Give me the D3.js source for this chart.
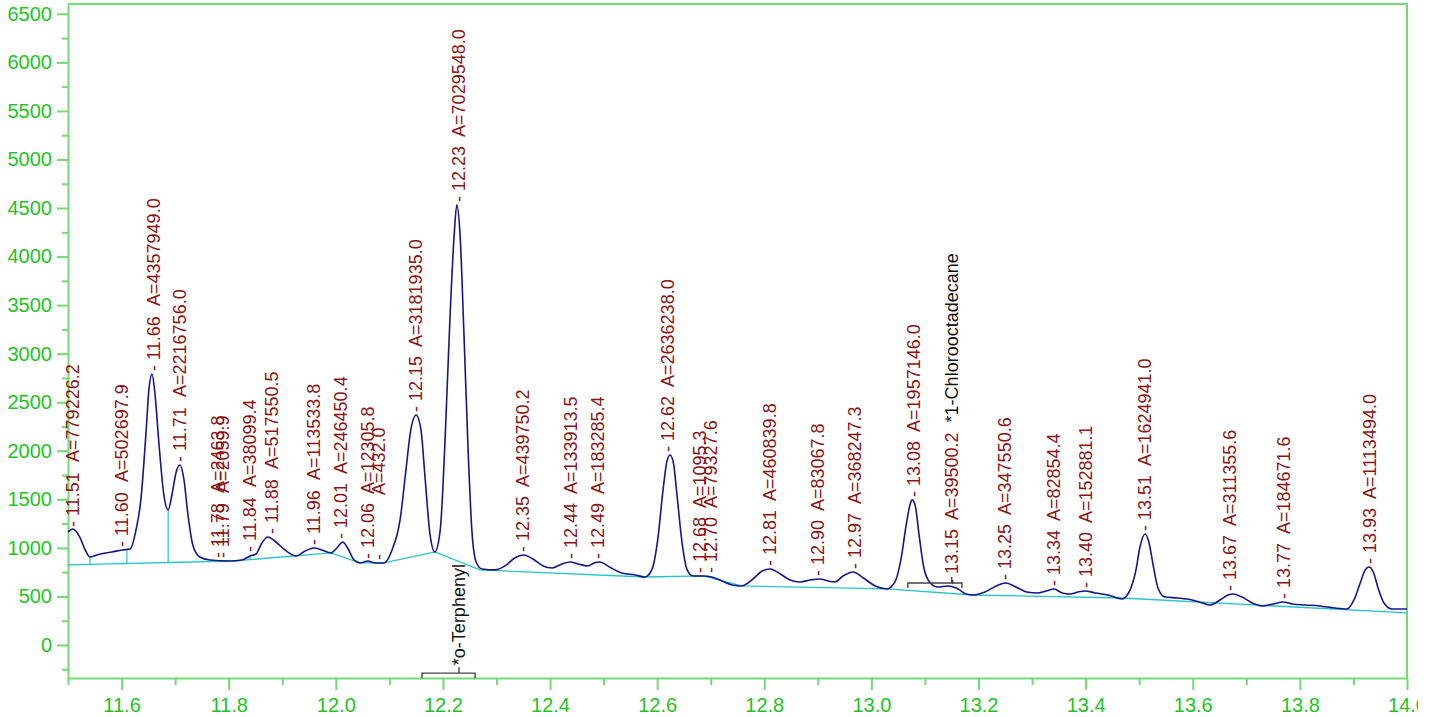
<!DOCTYPE html>
<html><head><meta charset="utf-8">
<script src="https://cdn.jsdelivr.net/npm/d3@7"></script>
<style>
html,body{margin:0;padding:0;background:#fff;}
svg{display:block;font-family:"Liberation Sans",Arial,sans-serif;}
.tk text{font-size:20px !important;font-family:"Liberation Sans",Arial,sans-serif;}
</style></head><body><div id="chart"></div>
<script>
// detector trace: [retention time, signal]
const trace=[
  [11.500,1164],[11.509,1195],[11.522,1112],[11.532,979],[11.541,906],[11.560,937],[11.582,958],[11.601,979],
  [11.616,989],[11.627,1185],[11.636,1494],[11.646,2215],[11.651,2627],[11.657,2791],[11.662,2606],[11.670,2060],
  [11.679,1545],[11.687,1390],[11.694,1545],[11.702,1782],[11.709,1854],[11.716,1720],[11.724,1339],[11.733,1030],
  [11.746,906],[11.765,876],[11.802,865],[11.825,876],[11.840,917],[11.851,937],[11.862,1051],[11.873,1112],
  [11.886,1071],[11.905,979],[11.926,917],[11.943,968],[11.959,999],[11.974,979],[11.991,948],[12.002,999],
  [12.013,1061],[12.022,999],[12.034,876],[12.045,845],[12.060,865],[12.073,845],[12.090,845],[12.105,979],
  [12.120,1288],[12.131,1803],[12.140,2215],[12.150,2369],[12.159,2215],[12.167,1700],[12.176,1133],[12.185,958],
  [12.195,1185],[12.204,2112],[12.213,3348],[12.221,4223],[12.226,4532],[12.232,4223],[12.239,3245],[12.247,2009],
  [12.254,1185],[12.262,855],[12.273,783],[12.297,773],[12.316,814],[12.334,896],[12.351,927],[12.368,886],
  [12.387,814],[12.404,793],[12.422,834],[12.437,855],[12.452,834],[12.471,814],[12.482,845],[12.493,855],
  [12.511,803],[12.534,742],[12.559,721],[12.577,700],[12.590,773],[12.601,1082],[12.611,1597],[12.618,1885],
  [12.624,1957],[12.630,1885],[12.637,1545],[12.647,1030],[12.656,773],[12.667,711],[12.686,711],[12.702,700],
  [12.721,659],[12.740,618],[12.758,608],[12.777,670],[12.796,762],[12.811,783],[12.830,731],[12.848,670],
  [12.867,649],[12.886,670],[12.904,680],[12.919,659],[12.932,649],[12.947,711],[12.966,752],[12.985,690],
  [13.007,608],[13.029,577],[13.044,649],[13.055,876],[13.065,1236],[13.073,1463],[13.076,1494],[13.082,1432],
  [13.089,1133],[13.098,793],[13.110,639],[13.124,597],[13.143,608],[13.162,577],[13.177,525],[13.190,515],
  [13.212,546],[13.233,608],[13.251,639],[13.270,597],[13.290,546],[13.311,536],[13.326,556],[13.341,577],
  [13.356,536],[13.371,525],[13.386,546],[13.399,556],[13.418,536],[13.442,515],[13.468,474],[13.483,567],
  [13.494,773],[13.501,999],[13.511,1143],[13.518,1061],[13.526,824],[13.535,587],[13.548,494],[13.572,484],
  [13.599,464],[13.618,433],[13.632,412],[13.651,464],[13.666,515],[13.675,525],[13.692,494],[13.711,433],
  [13.731,402],[13.750,422],[13.769,443],[13.786,422],[13.810,412],[13.837,402],[13.865,381],[13.888,371],
  [13.901,464],[13.912,628],[13.922,773],[13.929,803],[13.937,752],[13.946,587],[13.957,433],[13.972,371],
  [14.000,371]
];
const baseline=[
  [11.500,824],[11.808,865],[11.991,948],[12.045,845],[12.090,845],[12.185,958],[12.269,773],[12.577,700],
  [12.686,711],[12.758,608],[13.029,577],[13.190,515],[13.468,484],[14.000,330]
];
const dropTime=[11.541,11.610,11.687,11.840];
const dropTop=[906,989,1390,917];

const peakTime=[11.51,11.60,11.66,11.71,11.78,11.79,11.84,11.88,11.96,12.01,12.06,12.08,12.15,12.23,12.35,12.44,
  12.49,12.62,12.68,12.70,12.81,12.90,12.97,13.08,13.15,13.25,13.34,13.40,13.51,13.67,13.77,13.93];
const peakRtText=["11.51","11.60","11.66","11.71","11.78","11.79","11.84","11.88","11.96","12.01","12.06","","12.15","12.23","12.35","12.44",
  "12.49","12.62","12.68","12.70","12.81","12.90","12.97","13.08","13.15","13.25","13.34","13.40","13.51","13.67","13.77","13.93"];
const peakArea=["779226.2","502697.9","4357949.0","2216756.0","2463.8","2059.9","38099.4","517550.5","113533.8","246450.4",
  "12305.8","432.0","3181935.0","7029548.0","439750.2","133913.5","183285.4","2636238.0","1095.3","79327.6","460839.8",
  "83067.8","368247.3","1957146.0","39500.2","347550.6","82854.4","152881.1","1624941.0","311355.6","184671.6","1113494.0"];
const peakHeight=[1185,979,2791,1854,865,865,927,1112,999,1061,855,845,2369,4532,927,855,855,1957,711,711,783,680,752,
  1494,587,639,577,556,1143,525,443,803];
const peakName={"13.15":"*1-Chlorooctadecane"};

// compound brackets: [from, to, centre, level]
const brackets=[[12.161,12.260,12.23,-290],[13.068,13.169,13.15,638]];
const bracketName=["*o-Terphenyl",""];

const xTicks=[11.6,11.8,12.0,12.2,12.4,12.6,12.8,13.0,13.2,13.4,13.6,13.8,14.0];
const xMinor=[11.5,11.7,11.9,12.1,12.3,12.5,12.7,12.9,13.1,13.3,13.5,13.7,13.9];
const yTicks=[0,500,1000,1500,2000,2500,3000,3500,4000,4500,5000,5500,6000,6500];
const yMinor=[-250,250,750,1250,1750,2250,2750,3250,3750,4250,4750,5250,5750,6250];

const W=1418,H=717;
const svg=d3.select("#chart").append("svg").attr("width",W).attr("height",H);
const x=d3.scaleLinear().domain([11.5,14.0]).range([68,1407]);
const y=d3.scaleLinear().domain([-340,6601]).range([678,4]);
const axisCol="#72da72", labCol="#1ec41e";

function styleAxis(s){
  s.attr("class","tk");
  s.selectAll("path,line").attr("stroke",axisCol).attr("stroke-width",2);
  s.selectAll("text").attr("fill",labCol);
}
svg.append("g").attr("transform","translate(68,0)")
  .call(d3.axisLeft(y).tickValues(yTicks).tickSize(11).tickSizeOuter(0).tickPadding(5).tickFormat(d3.format("d")))
  .call(styleAxis);
svg.append("g").attr("transform","translate(68,0)")
  .call(d3.axisLeft(y).tickValues(yMinor).tickSize(6).tickFormat(""))
  .call(s=>s.select(".domain").remove()).call(styleAxis);
svg.append("g").attr("transform","translate(0,678)")
  .call(d3.axisBottom(x).tickValues(xTicks).tickSize(12).tickSizeOuter(0).tickPadding(8).tickFormat(d3.format(".1f")))
  .call(styleAxis);
svg.append("g").attr("transform","translate(0,678)")
  .call(d3.axisBottom(x).tickValues(xMinor).tickSize(7).tickFormat(""))
  .call(s=>s.select(".domain").remove()).call(styleAxis);
svg.append("path").attr("d",`M68,4H${x(14)}V678`).attr("fill","none").attr("stroke",axisCol).attr("stroke-width",2);

// baseline + drop lines
const base=d3.scaleLinear().domain(baseline.map(d=>d[0])).range(baseline.map(d=>d[1]));
svg.append("path").datum(baseline).attr("fill","none").attr("stroke","#27c4c8").attr("stroke-width",1.3)
  .attr("d",d3.line().x(d=>x(d[0])).y(d=>y(d[1])));
svg.selectAll(".drop").data(dropTime).join("line").attr("class","drop")
  .attr("x1",d=>x(d)).attr("x2",d=>x(d)).attr("y1",(d,i)=>y(dropTop[i])).attr("y2",d=>y(base(d)))
  .attr("stroke","#27c4c8").attr("stroke-width",1.2);

// trace
svg.append("path").datum(trace).attr("fill","none").attr("stroke","#16168a").attr("stroke-width",1.6)
  .attr("d",d3.line().x(d=>x(d[0])).y(d=>y(d[1])).curve(d3.curveMonotoneX));

// peak labels
const lab=svg.selectAll(".pk").data(peakTime).join("text").attr("class","pk")
  .attr("transform",(d,i)=>`translate(${x(d)},${y(peakHeight[i])-3}) rotate(-90)`)
  .attr("font-size",18).attr("fill","#8b1414");
lab.append("tspan").attr("x",0).attr("y",6).text((d,i)=>"- "+peakRtText[i]);
lab.append("tspan").attr("x",65).attr("y",6).text((d,i)=>"A="+peakArea[i]);
lab.filter(d=>peakName[d.toFixed(2)]).append("tspan").attr("dx",10).attr("fill","#111")
  .text(d=>peakName[d.toFixed(2)]);

// brackets
const br=svg.selectAll(".br").data(brackets).join("g").attr("class","br");
br.append("path").attr("fill","none").attr("stroke","#444").attr("stroke-width",1.4)
  .attr("d",d=>`M${x(d[0])},${y(d[3])+5}V${y(d[3])}H${x(d[1])}V${y(d[3])+5}M${x(d[2])},${y(d[3])}V${y(d[3])-6}`);
br.append("text").attr("transform",d=>`translate(${x(d[2])},${y(d[3])-8}) rotate(-90)`)
  .attr("y",6).attr("font-size",18).attr("fill","#111").text((d,i)=>bracketName[i]);
</script></body></html>
